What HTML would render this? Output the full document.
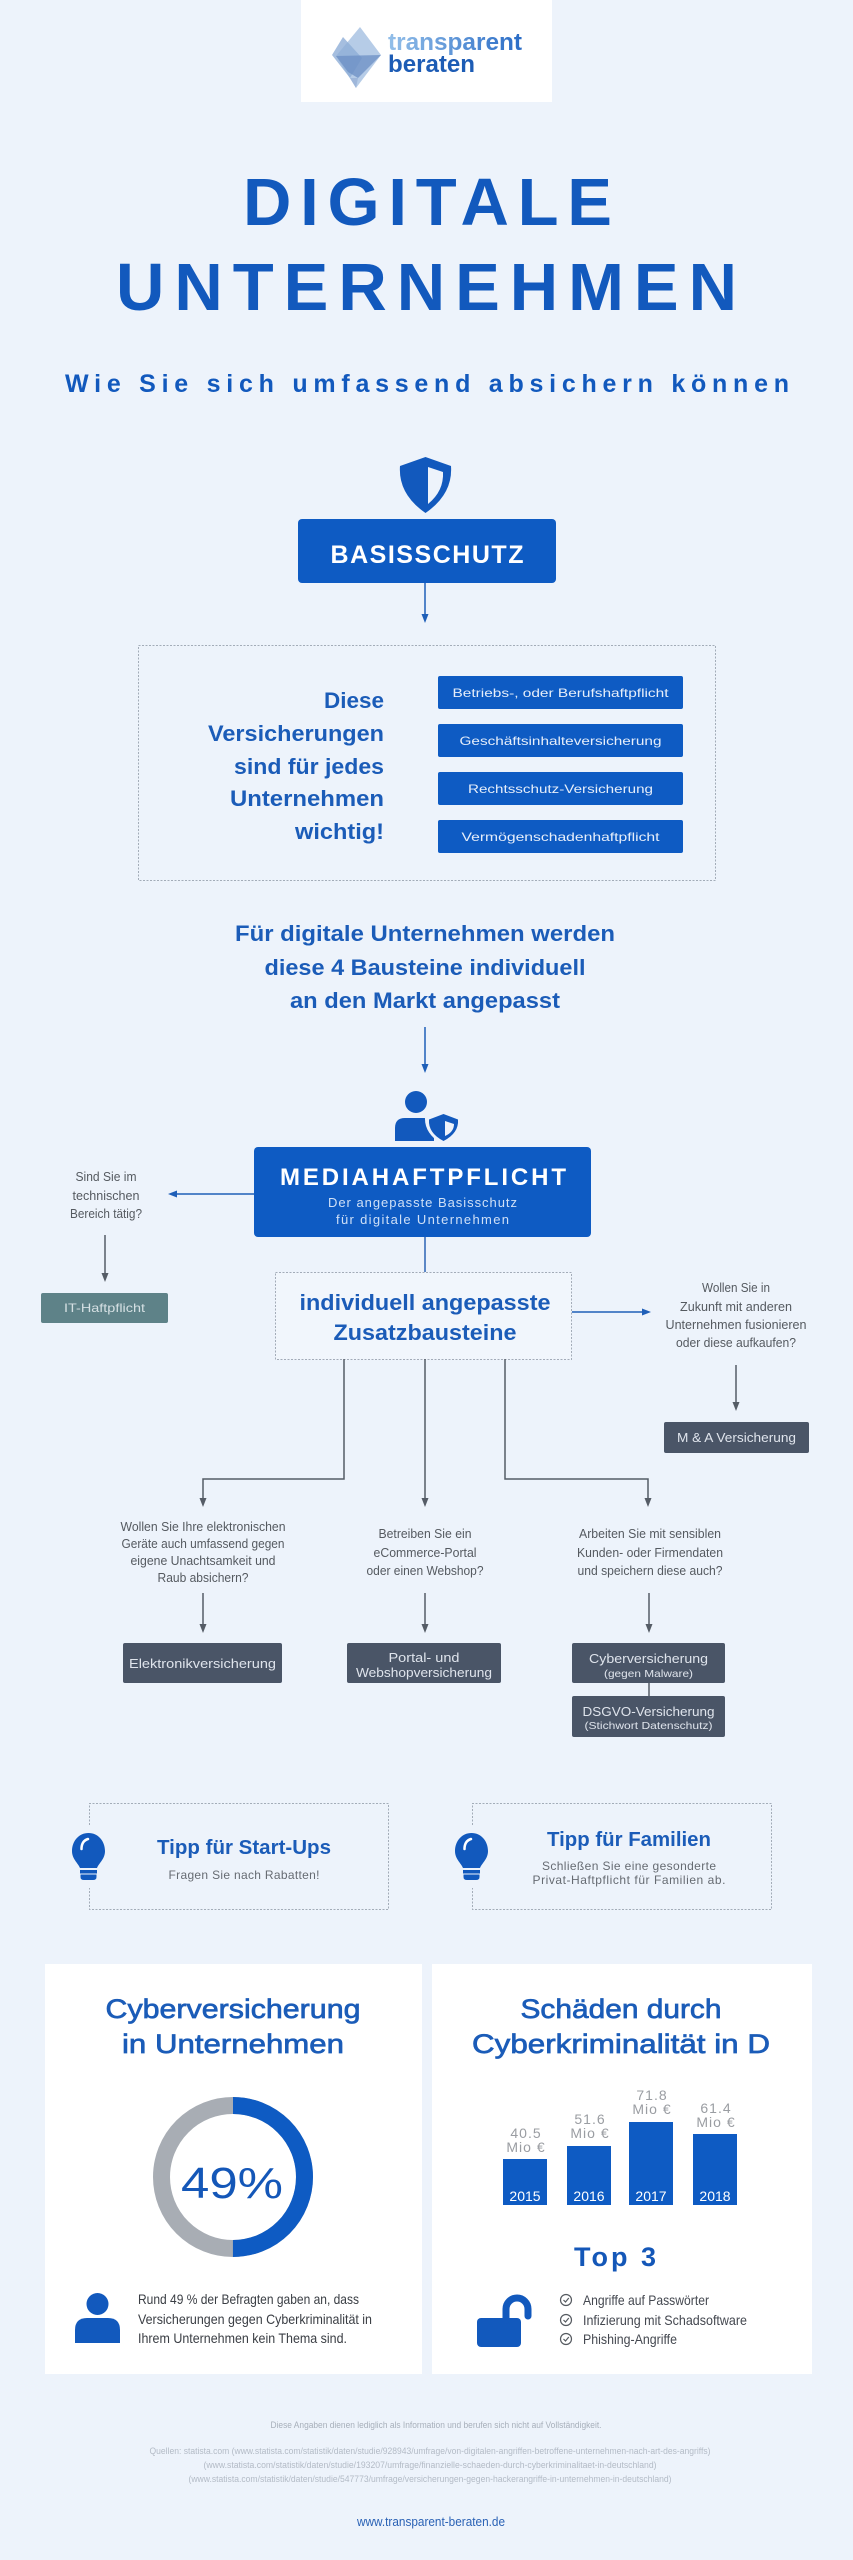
<!DOCTYPE html>
<html><head><meta charset="utf-8"><style>
html,body{margin:0;padding:0;background:#edf3fb;}
svg{display:block;}
text{font-family:"Liberation Sans",Arial,sans-serif;}
</style></head><body>
<svg width="853" height="2560" viewBox="0 0 853 2560" xmlns="http://www.w3.org/2000/svg">
<defs>
<linearGradient id="lg" x1="0" x2="1" y1="0" y2="0"><stop offset="0" stop-color="#93bfe9"/><stop offset="1" stop-color="#2a6cc6"/></linearGradient>
</defs>
<rect x="0" y="0" width="853" height="2560" fill="#edf3fb"/>

<!-- Logo -->
<rect x="301" y="0" width="251" height="102" fill="#ffffff"/>
<polygon points="360,27 381,55 356,88 336,56" fill="#a9c3e3" opacity="0.85"/>
<polygon points="343,37 362,58 350,78 332,55" fill="#8eaed7" opacity="0.8"/>
<polygon points="336,56 381,55 358,78 348,72" fill="#6b8fc4" opacity="0.75"/>
<polygon points="350,78 358,78 356,88" fill="#9fb7da"/>
<text x="388" y="50" font-size="24" font-weight="bold" fill="url(#lg)" textLength="134" lengthAdjust="spacingAndGlyphs">transparent</text>
<text x="388" y="72" font-size="24" font-weight="bold" fill="#1d5cb5" textLength="87" lengthAdjust="spacingAndGlyphs">beraten</text>

<!-- Title -->
<text x="427.5" y="225" font-size="67" font-weight="bold" fill="#1259bd" text-anchor="middle" textLength="369" lengthAdjust="spacing">DIGITALE</text>
<text x="426.5" y="310" font-size="67" font-weight="bold" fill="#1259bd" text-anchor="middle" textLength="621" lengthAdjust="spacing">UNTERNEHMEN</text>
<text x="427" y="392" font-size="25" font-weight="bold" fill="#1259bd" text-anchor="middle" textLength="724" lengthAdjust="spacing">Wie Sie sich umfassend absichern können</text>

<!-- Shield -->
<path d="M425.5,457 L451,466 Q453,494 425.5,513 Q398,494 400,466 Z" fill="#1259bd"/>
<path d="M428,467 L443,472 Q444,491 428,504 Z" fill="#edf3fb"/>

<!-- Basisschutz -->
<rect x="298" y="519" width="258" height="64" rx="4" fill="#0e5bc3"/>
<text x="427" y="563" font-size="25" font-weight="bold" fill="#ffffff" text-anchor="middle" textLength="193" lengthAdjust="spacing">BASISSCHUTZ</text>
<line x1="425" y1="583" x2="425" y2="616" stroke="#1f5fb8" stroke-width="1.5"/>
<polygon points="421.5,614 428.5,614 425,623" fill="#1f5fb8"/>

<rect x="138.5" y="645.5" width="577" height="235" fill="none" stroke="#a3acb8" stroke-width="1" stroke-dasharray="2,1.5"/>
<g font-size="22" font-weight="bold" fill="#1b5cb8" text-anchor="end">
<text x="384" y="708" textLength="60" lengthAdjust="spacingAndGlyphs">Diese</text>
<text x="384" y="741" textLength="176" lengthAdjust="spacingAndGlyphs">Versicherungen</text>
<text x="384" y="774" textLength="150" lengthAdjust="spacingAndGlyphs">sind für jedes</text>
<text x="384" y="806" textLength="154" lengthAdjust="spacingAndGlyphs">Unternehmen</text>
<text x="384" y="839" textLength="89" lengthAdjust="spacingAndGlyphs">wichtig!</text>
</g>
<g fill="#0e5bc3">
<rect x="438" y="676" width="245" height="33" rx="2"/>
<rect x="438" y="724" width="245" height="33" rx="2"/>
<rect x="438" y="772" width="245" height="33" rx="2"/>
<rect x="438" y="820" width="245" height="33" rx="2"/>
</g>
<g font-size="12" fill="#e6eefa" text-anchor="middle">
<text x="560.5" y="697" textLength="216" lengthAdjust="spacingAndGlyphs">Betriebs-, oder Berufshaftpflicht</text>
<text x="560.5" y="745" textLength="202" lengthAdjust="spacingAndGlyphs">Geschäftsinhalteversicherung</text>
<text x="560.5" y="793" textLength="185" lengthAdjust="spacingAndGlyphs">Rechtsschutz-Versicherung</text>
<text x="560.5" y="841" textLength="198" lengthAdjust="spacingAndGlyphs">Vermögenschadenhaftpflicht</text>
</g>

<!-- Für digitale -->
<g font-size="22" font-weight="bold" fill="#1b5cb8" text-anchor="middle">
<text x="425" y="941" textLength="380" lengthAdjust="spacingAndGlyphs">Für digitale Unternehmen werden</text>
<text x="425" y="975" textLength="321" lengthAdjust="spacingAndGlyphs">diese 4 Bausteine individuell</text>
<text x="425" y="1008" textLength="270" lengthAdjust="spacingAndGlyphs">an den Markt angepasst</text>
</g>
<line x1="425" y1="1027" x2="425" y2="1066" stroke="#1f5fb8" stroke-width="1.5"/>
<polygon points="421.5,1064 428.5,1064 425,1073" fill="#1f5fb8"/>

<!-- Person + shield icon -->
<circle cx="416" cy="1102" r="11" fill="#1259bd"/>
<path d="M395,1141 V1128 Q395,1118 405,1118 H427 Q434,1118 434,1124 V1141 Z" fill="#1259bd"/>
<path d="M443.5,1110 L462,1117 Q463,1134 443.5,1145 Q424,1134 425,1117 Z" fill="#edf3fb"/>
<path d="M443.5,1114 L458,1119.5 Q459,1133 443.5,1141 Q428,1133 429,1119.5 Z" fill="#1259bd"/>
<path d="M445,1121 L454,1124 Q454,1132 445,1136 Z" fill="#edf3fb"/>

<!-- Mediahaftpflicht -->
<rect x="254" y="1147" width="337" height="90" rx="4" fill="#0e5bc3"/>
<text x="423" y="1185" font-size="24" font-weight="bold" fill="#ffffff" text-anchor="middle" textLength="286" lengthAdjust="spacing">MEDIAHAFTPFLICHT</text>
<text x="422.5" y="1207" font-size="13" fill="#cfe0f7" text-anchor="middle" textLength="189" lengthAdjust="spacing">Der angepasste Basisschutz</text>
<text x="422.5" y="1224" font-size="13" fill="#cfe0f7" text-anchor="middle" textLength="173" lengthAdjust="spacing">für digitale Unternehmen</text>

<line x1="254" y1="1194" x2="175" y2="1194" stroke="#1f5fb8" stroke-width="1.5"/>
<polygon points="177,1190.5 177,1197.5 168,1194" fill="#1f5fb8"/>
<g font-size="13" fill="#555a60" text-anchor="middle">
<text x="106" y="1181" textLength="61" lengthAdjust="spacingAndGlyphs">Sind Sie im</text>
<text x="106" y="1200" textLength="67" lengthAdjust="spacingAndGlyphs">technischen</text>
<text x="106" y="1218" textLength="72" lengthAdjust="spacingAndGlyphs">Bereich tätig?</text>
</g>
<line x1="105" y1="1235" x2="105" y2="1275" stroke="#555c66" stroke-width="1.5"/>
<polygon points="101.5,1273 108.5,1273 105,1282" fill="#555c66"/>
<rect x="41" y="1293" width="127" height="30" rx="2" fill="#5e8288"/>
<text x="104.5" y="1312" font-size="12" fill="#d5e0e3" text-anchor="middle" textLength="81" lengthAdjust="spacingAndGlyphs">IT-Haftpflicht</text>

<line x1="425" y1="1237" x2="425" y2="1272" stroke="#2b63b5" stroke-width="1.5"/>
<rect x="275.5" y="1272.5" width="296" height="87" fill="#f1f6fc" stroke="#a3acb8" stroke-width="1" stroke-dasharray="2,1.5"/>
<text x="425" y="1310" font-size="22" font-weight="bold" fill="#1b5cb8" text-anchor="middle" textLength="251" lengthAdjust="spacingAndGlyphs">individuell angepasste</text>
<text x="425" y="1340" font-size="22" font-weight="bold" fill="#1b5cb8" text-anchor="middle" textLength="183" lengthAdjust="spacingAndGlyphs">Zusatzbausteine</text>

<line x1="572" y1="1312" x2="644" y2="1312" stroke="#1f5fb8" stroke-width="1.5"/>
<polygon points="642,1308.5 642,1315.5 651,1312" fill="#1f5fb8"/>
<g font-size="13" fill="#555a60" text-anchor="middle">
<text x="736" y="1292" textLength="68" lengthAdjust="spacingAndGlyphs">Wollen Sie in</text>
<text x="736" y="1311" textLength="112" lengthAdjust="spacingAndGlyphs">Zukunft mit anderen</text>
<text x="736" y="1329" textLength="141" lengthAdjust="spacingAndGlyphs">Unternehmen fusionieren</text>
<text x="736" y="1347" textLength="120" lengthAdjust="spacingAndGlyphs">oder diese aufkaufen?</text>
</g>
<line x1="736" y1="1365" x2="736" y2="1404" stroke="#555c66" stroke-width="1.5"/>
<polygon points="732.5,1402 739.5,1402 736,1411" fill="#555c66"/>
<rect x="664" y="1422" width="145" height="31" rx="2" fill="#4a5567"/>
<text x="736.5" y="1442" font-size="13" fill="#dfe4ec" text-anchor="middle" textLength="119" lengthAdjust="spacingAndGlyphs">M &amp; A Versicherung</text>

<!-- Branches -->
<g stroke="#555c66" stroke-width="1.5" fill="none">
<path d="M344,1359 V1479 H203 V1500"/>
<path d="M425,1359 V1500"/>
<path d="M505,1359 V1479 H648 V1500"/>
<path d="M203,1593 V1626"/>
<path d="M425,1593 V1626"/>
<path d="M649,1593 V1626"/>
<path d="M649,1683 V1696"/>
</g>
<g fill="#555c66">
<polygon points="199.5,1498 206.5,1498 203,1507"/>
<polygon points="421.5,1498 428.5,1498 425,1507"/>
<polygon points="644.5,1498 651.5,1498 648,1507"/>
<polygon points="199.5,1624 206.5,1624 203,1633"/>
<polygon points="421.5,1624 428.5,1624 425,1633"/>
<polygon points="645.5,1624 652.5,1624 649,1633"/>
</g>
<g font-size="13" fill="#555a60" text-anchor="middle">
<text x="203" y="1531" textLength="165" lengthAdjust="spacingAndGlyphs">Wollen Sie Ihre elektronischen</text>
<text x="203" y="1548" textLength="163" lengthAdjust="spacingAndGlyphs">Geräte auch umfassend gegen</text>
<text x="203" y="1565" textLength="145" lengthAdjust="spacingAndGlyphs">eigene Unachtsamkeit und</text>
<text x="203" y="1582" textLength="91" lengthAdjust="spacingAndGlyphs">Raub absichern?</text>
<text x="425" y="1538" textLength="93" lengthAdjust="spacingAndGlyphs">Betreiben Sie ein</text>
<text x="425" y="1557" textLength="103" lengthAdjust="spacingAndGlyphs">eCommerce-Portal</text>
<text x="425" y="1575" textLength="117" lengthAdjust="spacingAndGlyphs">oder einen Webshop?</text>
<text x="650" y="1538" textLength="142" lengthAdjust="spacingAndGlyphs">Arbeiten Sie mit sensiblen</text>
<text x="650" y="1557" textLength="146" lengthAdjust="spacingAndGlyphs">Kunden- oder Firmendaten</text>
<text x="650" y="1575" textLength="145" lengthAdjust="spacingAndGlyphs">und speichern diese auch?</text>
</g>
<g fill="#4a5567">
<rect x="123" y="1643" width="159" height="40" rx="2"/>
<rect x="347" y="1643" width="154" height="40" rx="2"/>
<rect x="572" y="1643" width="153" height="40" rx="2"/>
<rect x="572" y="1696" width="153" height="41" rx="2"/>
</g>
<g fill="#dfe4ec" text-anchor="middle">
<text x="202.5" y="1668" font-size="13" textLength="147" lengthAdjust="spacingAndGlyphs">Elektronikversicherung</text>
<text x="424" y="1662" font-size="13" textLength="71" lengthAdjust="spacingAndGlyphs">Portal- und</text>
<text x="424" y="1677" font-size="13" textLength="136" lengthAdjust="spacingAndGlyphs">Webshopversicherung</text>
<text x="648.5" y="1663" font-size="13" textLength="119" lengthAdjust="spacingAndGlyphs">Cyberversicherung</text>
<text x="648.5" y="1677" font-size="10.5" textLength="89" lengthAdjust="spacingAndGlyphs">(gegen Malware)</text>
<text x="648.5" y="1716" font-size="13" textLength="132" lengthAdjust="spacingAndGlyphs">DSGVO-Versicherung</text>
<text x="648.5" y="1729" font-size="10.5" textLength="128" lengthAdjust="spacingAndGlyphs">(Stichwort Datenschutz)</text>
</g>

<!-- Tipps -->
<g stroke="#a3acb8" stroke-width="1" stroke-dasharray="2,1.5" fill="none">
<path d="M89.5,1825 V1803.5 H388.5 V1909.5 H89.5 V1888"/>
<path d="M472.5,1825 V1803.5 H771.5 V1909.5 H472.5 V1888"/>
</g>
<g id="bulb">
<path d="M88.5,1833 C98,1833 105,1841 105,1851 C105,1859 99,1863 97,1868 L80,1868 C78,1863 72,1859 72,1851 C72,1841 79,1833 88.5,1833 Z" fill="#1259bd"/>
<rect x="80" y="1870" width="17" height="3.5" fill="#1259bd"/>
<path d="M80.5,1874.5 H96.5 V1877 Q96.5,1880 93,1880 H84 Q80.5,1880 80.5,1877 Z" fill="#1259bd"/>
<path d="M81.5,1849 Q81.5,1841 88,1839" stroke="#ffffff" stroke-width="2.5" fill="none" stroke-linecap="round"/>
</g>
<use href="#bulb" x="383" y="0"/>
<text x="244" y="1854" font-size="20" font-weight="bold" fill="#1b5cb8" text-anchor="middle" textLength="174" lengthAdjust="spacingAndGlyphs">Tipp für Start-Ups</text>
<text x="244" y="1879" font-size="12" fill="#666b72" text-anchor="middle" textLength="151" lengthAdjust="spacing">Fragen Sie nach Rabatten!</text>
<text x="629" y="1846" font-size="20" font-weight="bold" fill="#1b5cb8" text-anchor="middle" textLength="164" lengthAdjust="spacingAndGlyphs">Tipp für Familien</text>
<text x="629" y="1870" font-size="12" fill="#666b72" text-anchor="middle" textLength="174" lengthAdjust="spacing">Schließen Sie eine gesonderte</text>
<text x="629" y="1884" font-size="12" fill="#666b72" text-anchor="middle" textLength="193" lengthAdjust="spacing">Privat-Haftpflicht für Familien ab.</text>

<!-- Cards -->
<rect x="45" y="1964" width="377" height="410" fill="#ffffff"/>
<rect x="432" y="1964" width="380" height="410" fill="#ffffff"/>
<g font-size="27" fill="#1b5cb8" stroke="#1b5cb8" stroke-width="0.7" text-anchor="middle">
<text x="233" y="2018" textLength="255" lengthAdjust="spacingAndGlyphs">Cyberversicherung</text>
<text x="233" y="2053" textLength="222" lengthAdjust="spacingAndGlyphs">in Unternehmen</text>
<text x="621" y="2018" textLength="201" lengthAdjust="spacingAndGlyphs">Schäden durch</text>
<text x="621" y="2053" textLength="298" lengthAdjust="spacingAndGlyphs">Cyberkriminalität in D</text>
</g>
<circle cx="233" cy="2177" r="71.5" fill="none" stroke="#a8adb4" stroke-width="17"/>
<circle cx="233" cy="2177" r="71.5" fill="none" stroke="#0e5bc3" stroke-width="17" stroke-dasharray="224.6 500" transform="rotate(-90 233 2177)"/>
<text x="232" y="2198" font-size="44" fill="#1457b8" text-anchor="middle" textLength="102" lengthAdjust="spacingAndGlyphs">49%</text>

<circle cx="97.5" cy="2304" r="11" fill="#1259bd"/>
<path d="M75,2343 V2330 Q75,2318 87,2318 H108 Q120,2318 120,2330 V2343 Z" fill="#1259bd"/>
<g font-size="14" fill="#3a3e44">
<text x="138" y="2304" textLength="221" lengthAdjust="spacingAndGlyphs">Rund 49 % der Befragten gaben an, dass</text>
<text x="138" y="2324" textLength="234" lengthAdjust="spacingAndGlyphs">Versicherungen gegen Cyberkriminalität in</text>
<text x="138" y="2343" textLength="209" lengthAdjust="spacingAndGlyphs">Ihrem Unternehmen kein Thema sind.</text>
</g>

<g fill="#0e5bc3">
<rect x="503" y="2159" width="44" height="46"/>
<rect x="567" y="2146" width="44" height="59"/>
<rect x="629" y="2122" width="44" height="83"/>
<rect x="693" y="2134" width="44" height="71"/>
</g>
<g font-size="14" fill="#ffffff" text-anchor="middle">
<text x="525" y="2201">2015</text>
<text x="589" y="2201">2016</text>
<text x="651" y="2201">2017</text>
<text x="715" y="2201">2018</text>
</g>
<g font-size="14" fill="#9a9da2" text-anchor="middle" letter-spacing="1">
<text x="526" y="2138">40.5</text>
<text x="526" y="2152">Mio €</text>
<text x="590" y="2124">51.6</text>
<text x="590" y="2138">Mio €</text>
<text x="652" y="2100">71.8</text>
<text x="652" y="2114">Mio €</text>
<text x="716" y="2113">61.4</text>
<text x="716" y="2127">Mio €</text>
</g>
<text x="615" y="2266" font-size="27" font-weight="bold" fill="#1457b8" text-anchor="middle" textLength="82" lengthAdjust="spacing">Top 3</text>

<rect x="477" y="2318" width="44" height="29" rx="4" fill="#1259bd"/>
<path d="M506,2320 V2309 A11,11 0 0 1 528,2309 V2316" stroke="#1259bd" stroke-width="7" fill="none" stroke-linecap="round"/>
<g stroke="#555a60" stroke-width="1.2" fill="none">
<circle cx="566" cy="2300" r="5.5"/>
<circle cx="566" cy="2320" r="5.5"/>
<circle cx="566" cy="2339" r="5.5"/>
<path d="M563.5,2300 L565.5,2302 L568.8,2298"/>
<path d="M563.5,2320 L565.5,2322 L568.8,2318"/>
<path d="M563.5,2339 L565.5,2341 L568.8,2337"/>
</g>
<g font-size="14" fill="#444850">
<text x="583" y="2305" textLength="126" lengthAdjust="spacingAndGlyphs">Angriffe auf Passwörter</text>
<text x="583" y="2325" textLength="164" lengthAdjust="spacingAndGlyphs">Infizierung mit Schadsoftware</text>
<text x="583" y="2344" textLength="94" lengthAdjust="spacingAndGlyphs">Phishing-Angriffe</text>
</g>

<!-- Footer -->
<g font-size="9" text-anchor="middle">
<text x="436" y="2428" fill="#a7afba" textLength="331" lengthAdjust="spacingAndGlyphs">Diese Angaben dienen lediglich als Information und berufen sich nicht auf Vollständigkeit.</text>
<text x="430" y="2454" fill="#b3bbc6" textLength="561" lengthAdjust="spacingAndGlyphs">Quellen: statista.com (www.statista.com/statistik/daten/studie/928943/umfrage/von-digitalen-angriffen-betroffene-unternehmen-nach-art-des-angriffs)</text>
<text x="430" y="2468" fill="#b3bbc6" textLength="453" lengthAdjust="spacingAndGlyphs">(www.statista.com/statistik/daten/studie/193207/umfrage/finanzielle-schaeden-durch-cyberkriminalitaet-in-deutschland)</text>
<text x="430" y="2482" fill="#b3bbc6" textLength="483" lengthAdjust="spacingAndGlyphs">(www.statista.com/statistik/daten/studie/547773/umfrage/versicherungen-gegen-hackerangriffe-in-unternehmen-in-deutschland)</text>
</g>
<text x="431" y="2526" font-size="13" fill="#2a62b5" text-anchor="middle" textLength="148" lengthAdjust="spacingAndGlyphs">www.transparent-beraten.de</text>
</svg>
</body></html>
